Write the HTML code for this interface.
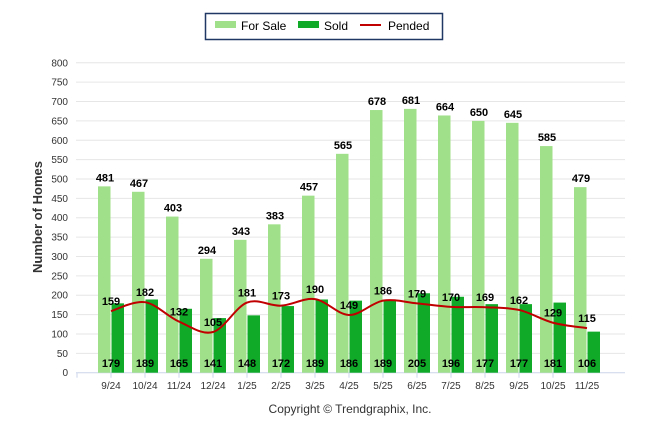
<!DOCTYPE html>
<html><head><meta charset="utf-8"><style>
body{margin:0;background:#fff;font-family:"Liberation Sans",Arial,sans-serif}
svg text{font-family:"Liberation Sans",Arial,sans-serif}
</style></head><body>
<svg id="c" width="646" height="434" xmlns="http://www.w3.org/2000/svg">
<g>
<rect x="205.5" y="13.5" width="237" height="26" fill="#fff" stroke="#1f3864" stroke-width="1.5"/>
<rect x="215" y="21" width="21" height="7" fill="#a0e08a"/>
<text x="241" y="30" font-size="12" fill="#000">For Sale</text>
<rect x="298" y="21" width="21" height="7" fill="#10aa28"/>
<text x="324" y="30" font-size="12" fill="#000">Sold</text>
<line x1="360" y1="25" x2="381" y2="25" stroke="#c00000" stroke-width="2"/>
<text x="388" y="30" font-size="12" fill="#000">Pended</text>
</g>
<text transform="translate(42,217) rotate(-90)" text-anchor="middle" font-size="13" font-weight="bold" fill="#333">Number of Homes</text>
<text x="350" y="413" text-anchor="middle" font-size="12" fill="#333">Copyright © Trendgraphix, Inc.</text>
<g id="grid"></g><g id="bars"></g><g id="line"></g><g id="labels"></g>
</svg>
<script>
const categories=["9/24","10/24","11/24","12/24","1/25","2/25","3/25","4/25","5/25","6/25","7/25","8/25","9/25","10/25","11/25"];
const forSale=[481,467,403,294,343,383,457,565,678,681,664,650,645,585,479];
const sold=[179,189,165,141,148,172,189,186,189,205,196,177,177,181,106];
const pended=[159,182,132,105,181,173,190,149,186,179,170,169,162,129,115];
const yTicks=[0,50,100,150,200,250,300,350,400,450,500,550,600,650,700,750,800];
const NS="http://www.w3.org/2000/svg";
const y0=372.7,k=0.3874,x0=111,step=34;
const Y=v=>y0-v*k, X=i=>x0+i*step;
function mk(t,a,p){const e=document.createElementNS(NS,t);for(const n in a)e.setAttribute(n,a[n]);p.appendChild(e);return e;}
const grid=document.getElementById('grid'),bars=document.getElementById('bars'),lineG=document.getElementById('line'),lab=document.getElementById('labels');
yTicks.forEach(v=>{
 const l=mk('line',{x1:76,x2:625,y1:Y(v),y2:Y(v),stroke:v===0?'#ccd6eb':'#e6e6e6','stroke-width':1},grid);
 
 
 const t=mk('text',{x:68,y:Y(v)+3.5,'text-anchor':'end','font-size':10,fill:'#333'},grid);
 t.textContent=v;
 
 
});
categories.forEach((c,i)=>{
 const cx=X(i);
 const tk=mk('line',{x1:cx-34,x2:cx-34,y1:y0,y2:y0+5,stroke:'#ccd6eb'},grid);
 
 
 const t=mk('text',{x:cx,y:389,'text-anchor':'middle','font-size':10,fill:'#333'},grid);
 t.textContent=c;
 
 
 const b1=mk('rect',{x:cx-13,y:Y(forSale[i]),width:12.5,height:forSale[i]*k,fill:'#a0e08a'},bars);
 
 
 const b2=mk('rect',{x:cx+0.5,y:Y(sold[i]),width:12.5,height:sold[i]*k,fill:'#10aa28'},bars);
 
 
 const l1=mk('text',{x:cx-6,y:Y(forSale[i])-5,'text-anchor':'middle','font-size':11,'font-weight':'bold',fill:'#000'},lab);
 l1.textContent=forSale[i];
 
 
 const l2=mk('text',{x:cx,y:367,'text-anchor':'middle','font-size':11,'font-weight':'bold',fill:'#000'},lab);
 l2.textContent=sold[i];
 
 
 const l3=mk('text',{x:cx,y:Y(pended[i])-6,'text-anchor':'middle','font-size':11,'font-weight':'bold',fill:'#000'},lab);
 l3.textContent=pended[i];
 
 
});
const pts=pended.map((v,i)=>[X(i),Y(v)]);
let d='M'+pts[0][0]+','+pts[0][1];
for(let i=0;i<pts.length-1;i++){
 const p0=pts[Math.max(0,i-1)],p1=pts[i],p2=pts[i+1],p3=pts[Math.min(pts.length-1,i+2)];
 const c1=[p1[0]+(p2[0]-p0[0])/6,p1[1]+(p2[1]-p0[1])/6],c2=[p2[0]-(p3[0]-p1[0])/6,p2[1]-(p3[1]-p1[1])/6];
 d+=` C${c1[0]},${c1[1]} ${c2[0]},${c2[1]} ${p2[0]},${p2[1]}`;
}
const pl=mk('path',{d:d,fill:'none',stroke:'#c00000','stroke-width':2},lineG);


</script>
</body></html>
